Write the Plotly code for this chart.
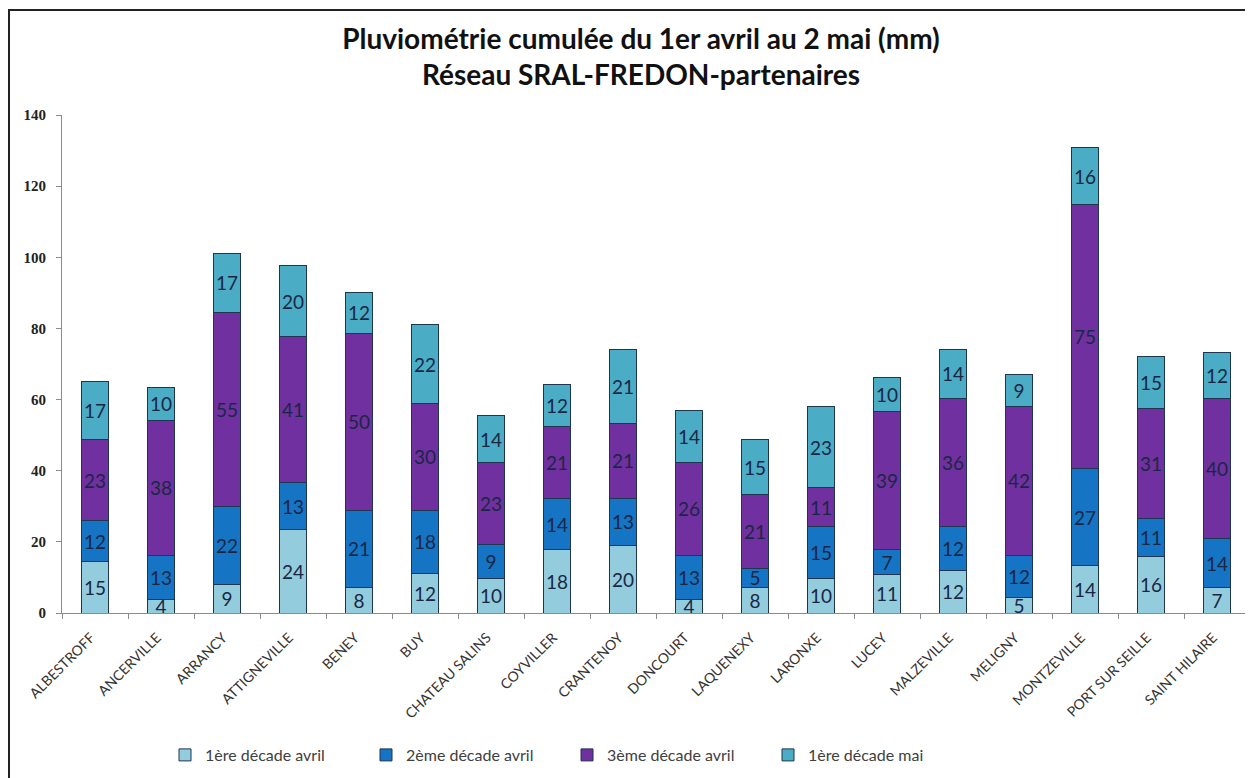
import plotly.graph_objects as go

stations = ["ALBESTROFF", "ANCERVILLE", "ARRANCY", "ATTIGNEVILLE", "BENEY", "BUY",
            "CHATEAU SALINS", "COYVILLER", "CRANTENOY", "DONCOURT", "LAQUENEXY",
            "LARONXE", "LUCEY", "MALZEVILLE", "MELIGNY", "MONTZEVILLE",
            "PORT SUR SEILLE", "SAINT HILAIRE"]

# estimated segment heights (mm)
avril_1 = [14.4, 3.8, 8.1, 23.4, 7.1, 11.2, 9.6, 17.8, 19.0, 3.8, 7.1, 9.7, 10.8, 12.0, 4.3, 13.3, 16.0, 7.1]
avril_2 = [11.5, 12.4, 21.8, 13.2, 21.8, 17.7, 9.6, 14.4, 13.2, 12.4, 5.5, 14.7, 7.0, 12.4, 11.9, 27.2, 10.5, 13.8]
avril_3 = [22.9, 38.0, 54.7, 41.0, 49.8, 30.1, 23.0, 20.3, 21.2, 26.2, 20.7, 10.8, 38.9, 36.0, 41.9, 74.4, 31.1, 39.5]
mai_1 = [16.2, 9.3, 16.6, 20.1, 11.5, 22.0, 13.4, 11.6, 20.8, 14.5, 15.4, 22.9, 9.4, 13.8, 8.9, 15.9, 14.5, 12.7]

# data labels as printed on the chart
lab_avril_1 = [15, 4, 9, 24, 8, 12, 10, 18, 20, 4, 8, 10, 11, 12, 5, 14, 16, 7]
lab_avril_2 = [12, 13, 22, 13, 21, 18, 9, 14, 13, 13, 5, 15, 7, 12, 12, 27, 11, 14]
lab_avril_3 = [23, 38, 55, 41, 50, 30, 23, 21, 21, 26, 21, 11, 39, 36, 42, 75, 31, 40]
lab_mai_1 = [17, 10, 17, 20, 12, 22, 14, 12, 21, 14, 15, 23, 10, 14, 9, 16, 15, 12]

series = [
    ("1ère décade avril", avril_1, lab_avril_1, "#93CDDD"),
    ("2ème décade avril", avril_2, lab_avril_2, "#1574C4"),
    ("3ème décade avril", avril_3, lab_avril_3, "#7030A0"),
    ("1ère décade mai", mai_1, lab_mai_1, "#4BACC6"),
]

fig = go.Figure()
for name, vals, labs, col in series:
    fig.add_trace(go.Bar(
        x=stations, y=vals, name=name,
        text=[str(v) for v in labs],
        textposition="inside", insidetextanchor="middle",
        textangle=0, constraintext="none",
        textfont=dict(family="Lato", size=19, color="#1A2744"),
        marker=dict(color=col, line=dict(color="#1F3550", width=1)),
        hoverinfo="skip",
    ))

# the page adds an 8px body margin; work in figure coordinates (page - 8)
OFF = 8
W, H = 1253 - OFF, 778 - OFF
L, R, T, B = 62 - OFF, 3, 115 - OFF, 164.5
pw = W - L - R
ph = H - T - B

def px_x(x):
    return (x - OFF - L) / pw

def px_y(y):
    return (H - B - (y - OFF)) / ph

border = dict(color="#222222", width=2)

fig.update_layout(
    width=W, height=H, autosize=False,
    barmode="stack", bargap=0.59,
    plot_bgcolor="white", paper_bgcolor="white",
    margin=dict(l=L, r=R, t=T, b=B, pad=0, autoexpand=False),
    title=dict(
        text="Pluviométrie cumulée du 1er avril au 2 mai (mm)<br>Réseau SRAL-FREDON-partenaires",
        font=dict(family="Lato", size=28, color="#111111", weight="bold"),
        x=(641 - OFF) / W, xanchor="center", xref="container",
        y=1 - 41 / H, yanchor="top", yref="container",
    ),
    showlegend=True,
    legend=dict(
        orientation="h", xref="container", yref="container",
        x=(567 - 8) / W, xanchor="center", y=1 - (755 - OFF) / H, yanchor="middle",
        font=dict(family="Lato", size=16, color="#404040"),
        traceorder="normal", itemwidth=30,
        entrywidth=156, entrywidthmode="pixels",
    ),
    xaxis=dict(
        tickangle=-45, tickfont=dict(family="Lato", size=14, color="#333333"),
        showline=True, linecolor="#8C8C8C", linewidth=1,
        ticks="outside", tickson="boundaries", ticklen=5, tickcolor="#8C8C8C",
        ticklabelstandoff=10, ticklabelshift=-4,
        showgrid=False, zeroline=False, fixedrange=True, automargin=False,
    ),
    yaxis=dict(
        range=[0, 140], tickvals=[0, 20, 40, 60, 80, 100, 120, 140],
        tickfont=dict(family="Liberation Serif", size=15, color="#222222", weight="bold"),
        showline=True, linecolor="#8C8C8C", linewidth=1,
        ticks="outside", ticklen=5, tickcolor="#8C8C8C", ticklabelstandoff=7,
        showgrid=False, zeroline=False, fixedrange=True, automargin=False,
    ),
    shapes=[
        dict(type="line", xref="paper", yref="paper",
             x0=px_x(8), x1=px_x(1300), y0=px_y(10), y1=px_y(10), line=border, layer="above"),
        dict(type="line", xref="paper", yref="paper",
             x0=px_x(9), x1=px_x(9), y0=px_y(10), y1=px_y(820), line=border, layer="above"),
    ],
)

fig.write_html("out.html")
